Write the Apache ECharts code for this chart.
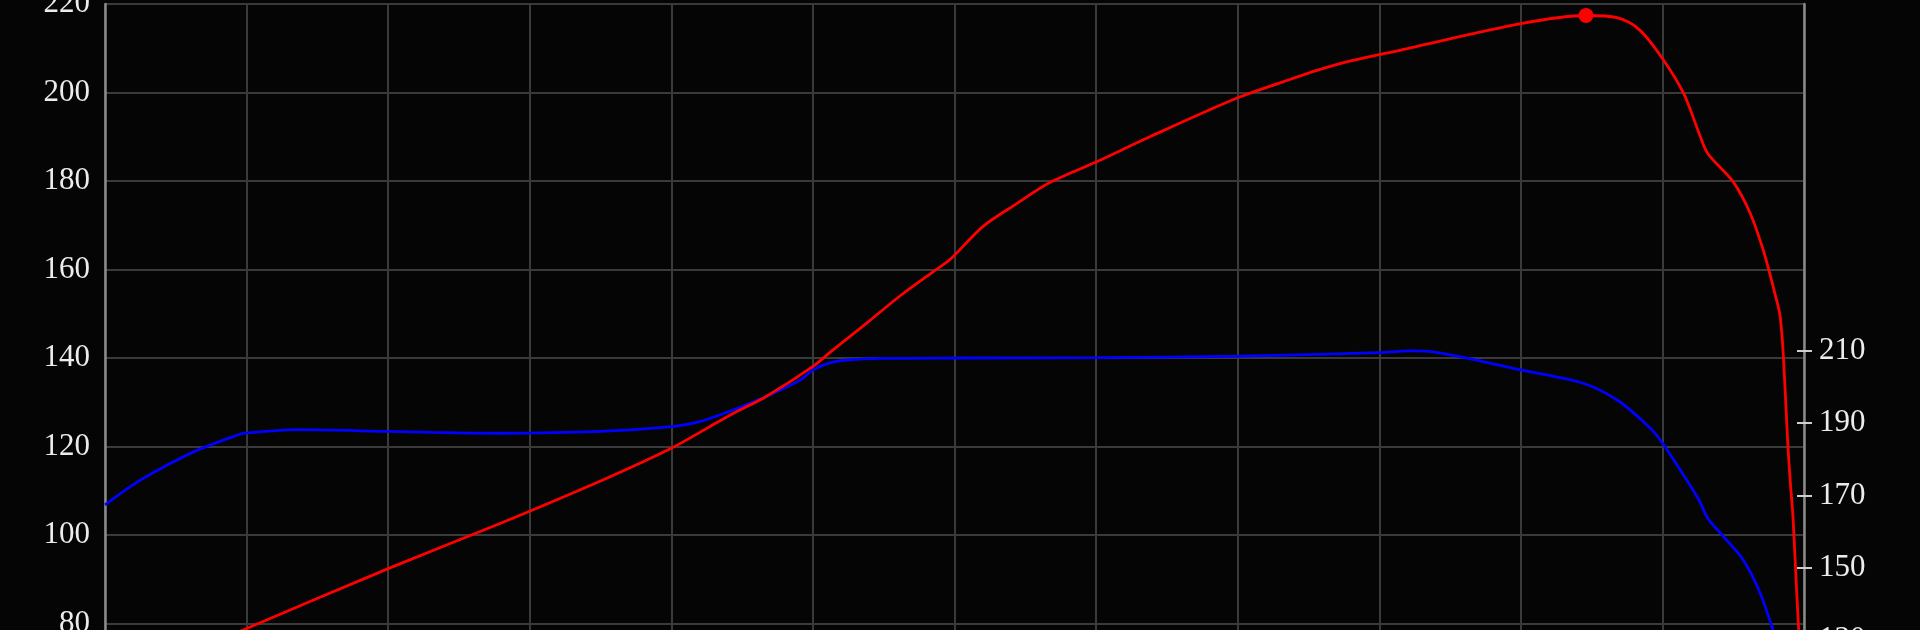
<!DOCTYPE html>
<html>
<head>
<meta charset="utf-8">
<script src="https://cdn.jsdelivr.net/npm/echarts@6/dist/echarts.min.js"></script>
<style>
  html, body { margin: 0; padding: 0; background: #050505; overflow: hidden; }
  #chart { width: 1920px; height: 730px; }
</style>
</head>
<body>
<div id="chart"></div>
<script>
// power curve (red), rpm / hp
var powerRpm = [1430, 1490, 2000, 2395, 2760, 3000, 3125, 3220, 3335, 3500, 3570, 3690, 3805, 3925, 3985, 4100, 4220, 4335, 4500, 4690, 5000, 5160, 5280, 5395, 5575, 6005, 6230, 6340, 6420, 6500, 6575, 6630, 6660, 6750, 6810, 6856, 6879, 6897, 6914, 6923, 6930, 6937, 6944, 6952, 6961, 6971, 6981, 6985];
var powerVal = [77.0, 78.6, 92.4, 102.6, 112.5, 119.6, 124.1, 127.5, 131.3, 138.1, 141.8, 147.9, 153.9, 159.5, 162.3, 169.7, 174.9, 179.6, 184.3, 190.0, 198.8, 202.4, 205.0, 207.1, 209.6, 215.6, 217.4, 216.9, 214.1, 207.7, 199.8, 190.7, 186.2, 179.8, 172.7, 164.4, 159.1, 154.6, 150.1, 144.5, 137.0, 128.0, 119.3, 111.6, 104.2, 91.3, 78.8, 76.0];

// torque curve (blue)
var torqueRpm = [1000, 1100, 1220, 1335, 1455, 1495, 1690, 2000, 2160, 2395, 2750, 3000, 3100, 3220, 3335, 3455, 3500, 3560, 3630, 3750, 4000, 4500, 5000, 5500, 5610, 5690, 5865, 6000, 6220, 6340, 6455, 6500, 6575, 6630, 6660, 6715, 6785, 6845, 6890, 6900];
var torqueVal = [106.8, 111.4, 115.8, 119.4, 122.3, 123.0, 123.8, 123.4, 123.2, 123.0, 123.4, 124.5, 125.6, 128.3, 131.3, 135.0, 137.3, 138.9, 139.6, 139.9, 140.0, 140.1, 140.4, 141.2, 141.6, 141.4, 139.2, 137.3, 134.3, 130.5, 124.3, 120.8, 113.5, 107.8, 103.8, 99.7, 94.4, 86.9, 78.6, 76.0];

// axes
var rpmMin = 1000, rpmMax = 7000, rpmStep = 500;
var leftMin = 60, leftMax = 220, leftStep = 20;
var rightMin = 110, rightMax = 210, rightStep = 20;

function pairs(xs, ys) {
    var out = [];
    for (var i = 0; i < xs.length; i++) {
        out.push([xs[i], ys[i]]);
    }
    return out;
}

var gridColor = '#3a3a3a';
var axisColor = '#8a8a8a';
var labelStyle = { color: '#ececec', fontFamily: 'Liberation Serif', fontSize: 31 };

var myChart = echarts.init(document.getElementById('chart'), null, { renderer: 'canvas' });
var option = {
    backgroundColor: '#050505',
    animation: false,
    grid: [
        { left: 105, right: 116, top: 4, bottom: 18, outerBoundsMode: 'none', containLabel: false },
        { left: 105, right: 116, top: 351, bottom: 18, outerBoundsMode: 'none', containLabel: false }
    ],
    xAxis: [{
        gridIndex: 0,
        type: 'value',
        min: rpmMin,
        max: rpmMax,
        interval: rpmStep,
        axisLine: { show: false },
        axisTick: { show: false },
        axisLabel: { show: false },
        splitLine: { show: true, lineStyle: { color: gridColor, width: 2 } }
    }, {
        gridIndex: 1,
        type: 'value',
        min: rpmMin,
        max: rpmMax,
        show: false
    }],
    yAxis: [{
        gridIndex: 0,
        type: 'value',
        position: 'left',
        min: leftMin,
        max: leftMax,
        interval: leftStep,
        axisLine: { show: true, lineStyle: { color: axisColor, width: 2.5 } },
        axisTick: { show: false },
        axisLabel: Object.assign({ margin: 15 }, labelStyle),
        splitLine: { show: true, lineStyle: { color: gridColor, width: 2 } }
    }, {
        gridIndex: 0,
        type: 'value',
        position: 'right',
        min: leftMin,
        max: leftMax,
        interval: leftStep,
        axisLine: { show: true, lineStyle: { color: axisColor, width: 2.5 } },
        axisTick: { show: false },
        axisLabel: { show: false },
        splitLine: { show: false }
    }, {
        gridIndex: 1,
        type: 'value',
        position: 'right',
        offset: -7,
        min: rightMin,
        max: rightMax,
        interval: rightStep,
        axisLine: { show: false },
        axisTick: { show: true, length: 15, lineStyle: { color: '#cfcfcf', width: 2 } },
        axisLabel: Object.assign({ margin: 22 }, labelStyle),
        splitLine: { show: false }
    }],
    series: [{
        name: 'power',
        type: 'line',
        xAxisIndex: 0,
        yAxisIndex: 0,
        data: pairs(powerRpm, powerVal),
        smooth: 0.3,
        showSymbol: false,
        lineStyle: { color: '#ff0000', width: 2.8 },
        itemStyle: { color: '#ff0000' },
        markPoint: {
            symbol: 'circle',
            symbolSize: 15,
            label: { show: false },
            itemStyle: { color: '#ff0000' },
            data: [{ type: 'max' }]
        },
        z: 3
    }, {
        name: 'torque',
        type: 'line',
        xAxisIndex: 0,
        yAxisIndex: 0,
        data: pairs(torqueRpm, torqueVal),
        smooth: 0.3,
        showSymbol: false,
        lineStyle: { color: '#0000ff', width: 2.8 },
        itemStyle: { color: '#0000ff' },
        z: 2
    }]
};
myChart.setOption(option);
</script>
</body>
</html>
